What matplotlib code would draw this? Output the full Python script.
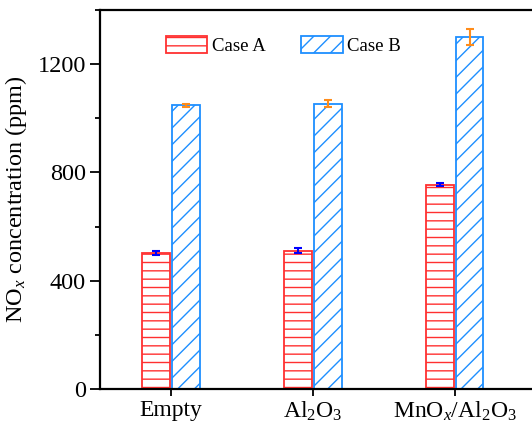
import numpy as np
import matplotlib
matplotlib.use("Agg")
import matplotlib.pyplot as plt
from matplotlib.ticker import MultipleLocator

categories = ["Empty", "Al$_2$O$_3$", "MnO$_x$/Al$_2$O$_3$"]
case_a = [503, 510, 755]
case_a_err = [7, 9, 6]
case_b = [1048, 1054, 1300]
case_b_err = [5, 13, 30]

plt.rcParams["font.family"] = ["Liberation Serif", "DejaVu Serif"]
plt.rcParams["mathtext.fontset"] = "custom"
plt.rcParams["mathtext.rm"] = "Liberation Serif"
plt.rcParams["mathtext.it"] = "Liberation Serif:italic"
plt.rcParams["hatch.linewidth"] = 1.0

red = "#FF3030"
blue = "#1E8FFF"

fig = plt.figure(figsize=(5.32, 4.28), dpi=100)
# axes box runs past the right edge of the figure, like the cropped original
ax = fig.add_axes([100 / 532, 39 / 428, 454 / 532, 379 / 428])

x = np.arange(len(categories))
w = 0.195
off = 0.105

ax.bar(x - off, case_a, w, facecolor="white", edgecolor=red, hatch="--",
       linewidth=1.3, label="Case A", zorder=2)
ax.bar(x + off, case_b, w, facecolor="white", edgecolor=blue, hatch="//",
       linewidth=1.3, label="Case B", zorder=2)
ax.errorbar(x - off, case_a, yerr=case_a_err, fmt="none", ecolor="#0000FF",
            elinewidth=1.5, capsize=3.2, capthick=1.5, zorder=3)
ax.errorbar(x + off, case_b, yerr=case_b_err, fmt="none", ecolor="#FF8C1A",
            elinewidth=1.5, capsize=3.2, capthick=1.5, zorder=3)

ax.set_xlim(-0.5, 2.7)
ax.set_ylim(0, 1400)
ax.set_xticks(x)
ax.set_xticklabels(categories, fontsize=17)
ax.yaxis.set_major_locator(MultipleLocator(400))
ax.yaxis.set_minor_locator(MultipleLocator(200))
ax.tick_params(axis="y", which="major", direction="out", length=7, width=1.3,
               labelsize=17.5, pad=3)
ax.tick_params(axis="y", which="minor", direction="out", length=3.5, width=1.3)
ax.tick_params(axis="x", which="major", direction="out", length=5, width=1.3,
               pad=3)
ax.set_ylabel("NO$_x$ concentration (ppm)", fontsize=17.5, labelpad=6)

for s in ax.spines.values():
    s.set_linewidth(1.6)

fig.legend(loc="upper left", bbox_to_anchor=(166 / 532, 1 - 36 / 428),
           ncol=2, frameon=False, fontsize=13.5, handlelength=2.2,
           handleheight=1.05, handletextpad=0.25, columnspacing=1.9,
           borderpad=0, borderaxespad=0)

fig.savefig("out.png", dpi=100)
